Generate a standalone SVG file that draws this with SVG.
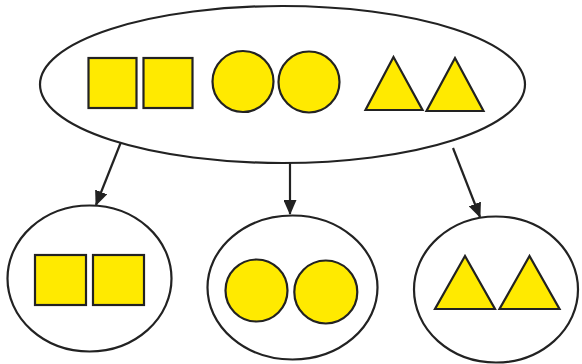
<svg xmlns="http://www.w3.org/2000/svg" width="582" height="364" viewBox="0 0 582 364">
<style>
.set{fill:#fff;stroke:#222;stroke-width:2.2}
.sh{fill:#FFEA00;stroke:#222;stroke-width:2.2}
.con{stroke:#222;stroke-width:2.2;fill:none}
</style>
<defs>
<marker id="ah" markerUnits="userSpaceOnUse" markerWidth="15" markerHeight="13" refX="14" refY="6.5" orient="auto">
<path d="M0,0 L15,6.5 L0,13 Z" fill="#222"/>
</marker>
</defs>
<rect width="582" height="364" fill="#fff"/>
<g id="connectors">
<line class="con" x1="121" y1="142" x2="96" y2="205" marker-end="url(#ah)"/>
<line class="con" x1="290" y1="163" x2="290" y2="214" marker-end="url(#ah)"/>
<line class="con" x1="453" y1="148" x2="480" y2="217" marker-end="url(#ah)"/>
</g>
<g id="all">
<ellipse class="set" cx="282.5" cy="84.5" rx="242.5" ry="78.5"/>
<rect class="sh" x="88.5" y="58" width="48" height="50"/>
<rect class="sh" x="143.5" y="58" width="49" height="50"/>
<circle class="sh" cx="243" cy="81.5" r="30.5"/>
<circle class="sh" cx="309" cy="82" r="30.5"/>
<polygon class="sh" points="393.5,57 365.5,110 422.5,110"/>
<polygon class="sh" points="455,58 426.5,111 483.5,111"/>
</g>
<g id="squares">
<ellipse class="set" cx="89.5" cy="278.5" rx="82" ry="73"/>
<rect class="sh" x="35" y="255" width="51" height="50"/>
<rect class="sh" x="93" y="255" width="51" height="50"/>
</g>
<g id="circles">
<ellipse class="set" cx="292.5" cy="287.5" rx="85" ry="72"/>
<circle class="sh" cx="256.5" cy="290.5" r="31"/>
<circle class="sh" cx="325.8" cy="292" r="31.5"/>
</g>
<g id="triangles">
<ellipse class="set" cx="496" cy="289.5" rx="82" ry="73"/>
<polygon class="sh" points="465,256 435,309 495,309"/>
<polygon class="sh" points="529.5,256 499.5,309 559.5,309"/>
</g>
</svg>
